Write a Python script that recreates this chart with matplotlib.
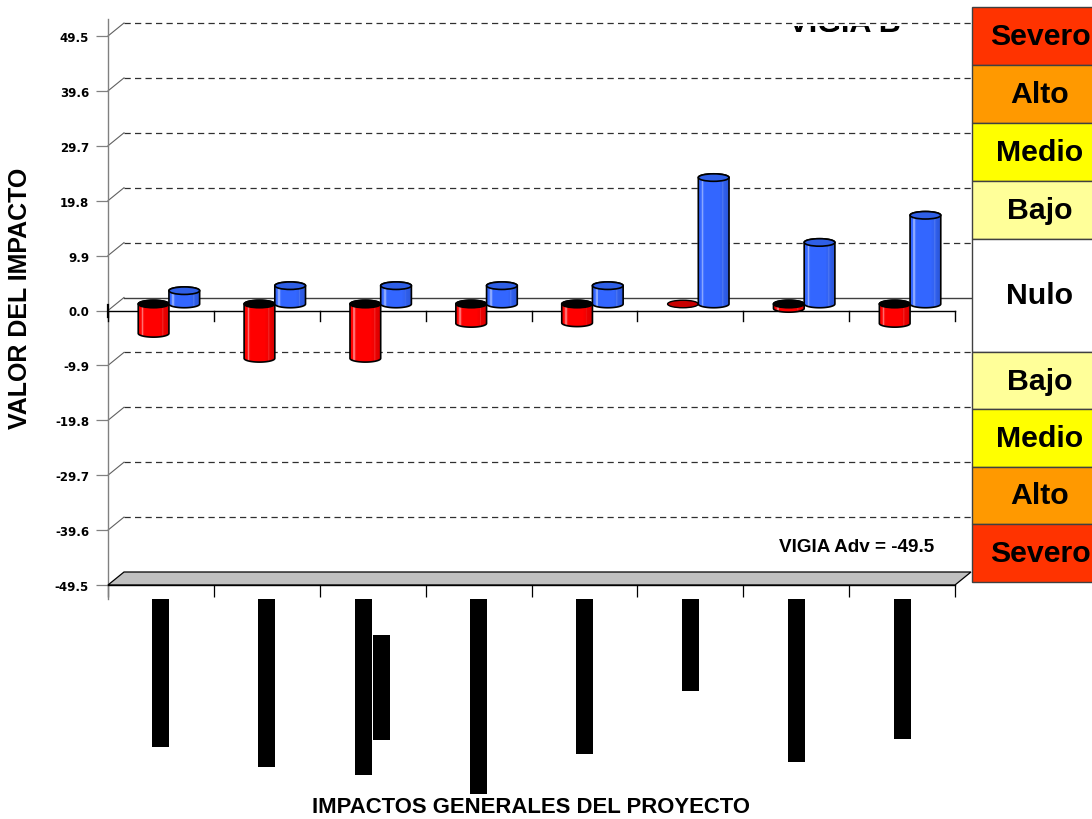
import numpy as np
import matplotlib
matplotlib.use("Agg")
import matplotlib.pyplot as plt
import matplotlib.colors as mcolors
from matplotlib.patches import Rectangle, Ellipse, Polygon, PathPatch
from matplotlib.textpath import TextPath
from matplotlib.font_manager import FontProperties
from matplotlib.transforms import Affine2D, IdentityTransform

plt.rcParams["font.family"] = ["Liberation Sans", "DejaVu Sans"]

# ---- data -------------------------------------------------------------
n_impactos = 8
adversos = [-5.3, -9.8, -9.8, -3.5, -3.4, 0.0, -0.8, -3.5]      # red series
beneficos = [2.4, 3.3, 3.3, 3.3, 3.3, 22.8, 11.1, 16.0]         # blue series
y_ticks = [49.5, 39.6, 29.7, 19.8, 9.9, 0.0, -9.9, -19.8, -29.7, -39.6, -49.5]
niveles = ["Severo", "Alto", "Medio", "Bajo", "Nulo", "Bajo", "Medio", "Alto", "Severo"]
nivel_colores = ["#ff3300", "#ff9900", "#ffff00", "#ffff99", "#ffffff",
                 "#ffff99", "#ffff00", "#ff9900", "#ff3300"]
# rotated category labels render as solid blocks: (offset from centre, top px, length px)
label_blocks = [
    [(0.0, 600, 148)],
    [(0.0, 600, 168)],
    [(-0.085, 600, 176), (0.085, 636, 105)],
    [(0.0, 600, 195)],
    [(0.0, 600, 155)],
    [(0.0, 600, 92)],
    [(0.0, 600, 163)],
    [(0.0, 600, 140)],
]

W, H = 1092, 820
fig = plt.figure(figsize=(W / 100, H / 100), dpi=100)
fig.patch.set_facecolor("white")


def fx(px):
    return px / W


def fy(py):
    return 1 - py / H


# front plane of the 3D box
ax_l, ax_r, ax_t, ax_b = 108, 955, 37, 586
ax = fig.add_axes([fx(ax_l), fy(ax_b), (ax_r - ax_l) / W, (ax_b - ax_t) / H])
ymin, ymax = -49.5, 49.5
ax.set_xlim(0, n_impactos)
ax.set_ylim(ymin, ymax)
ax.patch.set_visible(False)

xpp = n_impactos / (ax_r - ax_l)      # data units per pixel
ypp = (ymax - ymin) / (ax_b - ax_t)
DX, DY = 16 * xpp, 13 * ypp           # depth of the box

for s in ax.spines.values():
    s.set_visible(False)
ax.spines["bottom"].set_visible(True)
ax.spines["bottom"].set_color("black")
ax.spines["bottom"].set_linewidth(1.0)
ax.set_xticks(range(n_impactos + 1))
ax.set_xticklabels([])
ax.tick_params(axis="x", length=8.6, width=0.9, direction="out", color="black")
ax.set_yticks(y_ticks)
ax.set_yticklabels([f"{t:.1f}" for t in y_ticks], fontfamily="DejaVu Sans",
                   fontweight="bold", fontsize=8.5)
ax.tick_params(axis="y", length=8.6, width=0.9, color="#808080", pad=5)

# value axis line
ax.plot([0, 0], [ymin - 14 * ypp, ymax + 17 * ypp], color="#808080", lw=1.0,
        clip_on=False, zorder=2)

# side wall and back wall gridlines
for t in y_ticks:
    if t == ymin:
        continue
    ax.plot([0, DX], [t, t + DY], color="#606060", lw=0.8, clip_on=False, zorder=1)
    if t == 0:
        ax.plot([DX, n_impactos + DX], [t + DY, t + DY], color="#404040", lw=1.0,
                clip_on=False, zorder=1)
    else:
        ax.plot([DX, n_impactos + DX], [t + DY, t + DY], color="#303030", lw=0.9,
                ls=(0, (5.0, 3.4)), clip_on=False, zorder=1)

# floor
floor = Polygon([(0, ymin), (n_impactos, ymin), (n_impactos + DX, ymin + DY), (DX, ymin + DY)],
                closed=True, facecolor="#c0c0c0", edgecolor="black", lw=0.9,
                clip_on=False, zorder=2)
ax.add_patch(floor)

# zero line on the front plane with category ticks
ax.plot([0, n_impactos], [0, 0], color="black", lw=1.0, clip_on=False, zorder=3)
for i in range(n_impactos + 1):
    ax.plot([i, i], [0, -10 * ypp], color="black", lw=1.0, clip_on=False, zorder=3)
ax.plot([0, 0], [6 * ypp, -6 * ypp], color="black", lw=1.6, clip_on=False, zorder=3)


def shade(base, t):
    c = np.array(mcolors.to_rgb(base))
    hl = 0.5 * np.exp(-((t - 0.14) / 0.035) ** 2) + 0.15 * np.exp(-((t - 0.8) / 0.02) ** 2)
    c = c + (1 - c) * hl
    if t > 0.68:
        c = c * (1 - 0.16 * (t - 0.68) / 0.32)
    return np.clip(c, 0, 1)


def cylinder(x_left, width, value, base, cap, flat_color, z):
    x0 = x_left + DX / 2
    eh = 7.5 * ypp
    a, b = width / 2, eh / 2
    cx = x0 + a
    lo = min(0, value) + DY / 2
    hi = max(0, value) + DY / 2
    if value == 0:
        ax.add_patch(Ellipse((cx, hi), width, eh, facecolor=flat_color,
                             edgecolor="black", lw=1.0, zorder=z))
        return
    th1 = np.linspace(np.pi, 2 * np.pi, 40)
    th2 = np.linspace(0, np.pi, 40)
    pts = np.vstack([
        np.column_stack([cx + a * np.cos(th1), lo + b * np.sin(th1)]),
        np.column_stack([cx + a * np.cos(th2), hi + b * np.sin(th2)]),
    ])
    outline = Polygon(pts, closed=True, fill=False, edgecolor="black", lw=1.2,
                      joinstyle="round", transform=ax.transData, zorder=z + 0.2)
    n = 36
    for k in range(n):
        strip = Rectangle((x0 + k * width / n, lo - eh), width / n * 1.08,
                          hi - lo + 2 * eh, facecolor=shade(base, (k + 0.5) / n),
                          edgecolor="none", zorder=z + 0.1)
        ax.add_patch(strip)
        strip.set_clip_path(outline)
    ax.add_patch(outline)
    ax.add_patch(Ellipse((cx, hi), width, eh, facecolor=cap, edgecolor="black",
                         lw=1.2, zorder=z + 0.3))


bw = 0.29
for i in range(n_impactos):
    c = i + 0.5
    cylinder(c - bw, bw, adversos[i], "#ff0000", "#000000", "#c80000", 4 + i)
    cylinder(c, bw, beneficos[i], "#3366ff", "#2f5fe6", "#2f5fe6", 4.5 + i)

# category label blocks below the floor
blk_w = 17 * xpp
for i, blocks in enumerate(label_blocks):
    for off, top_px, length_px in blocks:
        y_top = ymin - (top_px - ax_b) * ypp
        ax.add_patch(Rectangle((i + 0.5 + off - blk_w / 2, y_top - length_px * ypp),
                               blk_w, length_px * ypp, facecolor="black",
                               edgecolor="none", clip_on=False, zorder=3))

# level legend on the right
bounds = [8, 66, 124, 182, 240, 353, 410, 468, 525, 583]
for k, (name, col) in enumerate(zip(niveles, nivel_colores)):
    top, bot = bounds[k], bounds[k + 1]
    fig.add_artist(Rectangle((fx(972), fy(bot)), (1115 - 972) / W, (bot - top) / H,
                             transform=fig.transFigure, facecolor=col,
                             edgecolor="#404040", lw=1.0))
    fig.text(fx(1040), fy((top + bot) / 2), name, fontsize=21.8, fontweight="bold",
             ha="center", va="center", color="black")

# titles and annotations
fig.text(fx(20), fy(298), "VALOR DEL IMPACTO", rotation=90, fontsize=18,
         fontweight="bold", ha="center", va="center")
fig.text(fx(531), fy(808), "IMPACTOS GENERALES DEL PROYECTO", fontsize=15.9,
         fontweight="bold", ha="center", va="center")
fig.text(fx(857), fy(548), "VIGIA Adv = -49.5", fontsize=13.6, fontweight="bold",
         ha="center", va="center")

# chart title sits behind the top of the plot; only a sliver of it shows
tp = TextPath((0, 0), "VIGIA B", size=30.5,
              prop=FontProperties(family="Liberation Sans", weight="bold"))
ext = tp.get_extents()
base_y = H - 33
title_tr = Affine2D().translate(844 - (ext.x0 + ext.x1) / 2, base_y) + IdentityTransform()
title_patch = PathPatch(tp, transform=title_tr, facecolor="black", edgecolor="none")
fig.add_artist(title_patch)
title_patch.set_clip_path(Rectangle((760, base_y), 180, 6.5, transform=IdentityTransform()))

fig.savefig("out.png", dpi=100, facecolor="white")
